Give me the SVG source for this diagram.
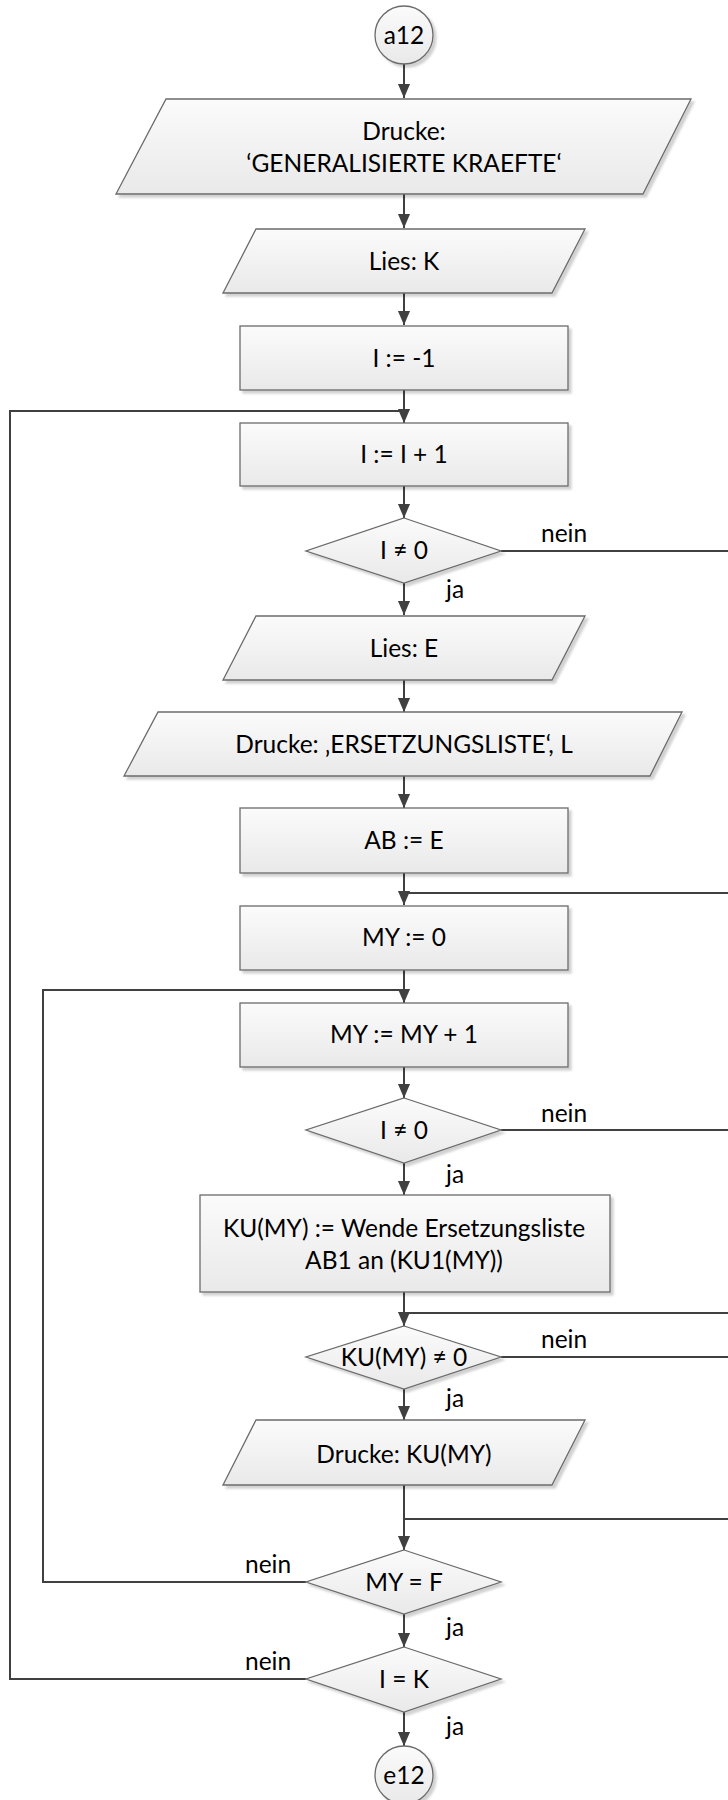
<svg xmlns="http://www.w3.org/2000/svg" width="728" height="1800" viewBox="0 0 728 1800">
<style>
.n{fill:url(#g);stroke:#6b6b6b;stroke-width:1.3;filter:url(#sh)}
.t{font-family:Lato,"Liberation Sans",sans-serif;font-size:24.5px;fill:#000;text-anchor:middle}
.l{font-family:Lato,"Liberation Sans",sans-serif;font-size:24.5px;fill:#000}
.c{fill:none;stroke:#404040;stroke-width:2}
.a{marker-end:url(#ah)}
</style>
<defs>
<linearGradient id="g" x1="0" y1="0" x2="0" y2="1">
<stop offset="0" stop-color="#fbfbfb"/>
<stop offset="1" stop-color="#e9e9e9"/>
</linearGradient>
<filter id="sh" x="-10%" y="-10%" width="130%" height="140%">
<feDropShadow dx="3" dy="3" stdDeviation="1" flood-color="#000" flood-opacity="0.18"/>
</filter>
<marker id="ah" markerUnits="userSpaceOnUse" markerWidth="14" markerHeight="16" refX="15" refY="6.5" orient="auto" viewBox="0 0 15 13">
<path d="M0,0 L15,6.5 L0,13 z" fill="#404040"/>
</marker>
</defs>

<g id="connectors">
<path class="c a" d="M404,64 V98"/>
<path class="c a" d="M404,194 V228"/>
<path class="c a" d="M404,293 V325"/>
<path class="c a" d="M404,390 V423"/>
<path class="c" d="M306,1679 H10 V411 H404"/>
<path class="c a" d="M404,486 V518"/>
<path class="c" d="M501,551 H730"/>
<path class="c a" d="M404,583 V615"/>
<path class="c a" d="M404,680 V712"/>
<path class="c a" d="M404,776 V808"/>
<path class="c a" d="M404,873 V905"/>
<path class="c" d="M730,893 H404"/>
<path class="c a" d="M404,970 V1003"/>
<path class="c" d="M306,1582 H43 V990 H404"/>
<path class="c a" d="M404,1067 V1098"/>
<path class="c" d="M501,1130 H730"/>
<path class="c a" d="M404,1163 V1195"/>
<path class="c a" d="M404,1292 V1326"/>
<path class="c" d="M730,1313 H404"/>
<path class="c" d="M501,1357 H730"/>
<path class="c a" d="M404,1389 V1420"/>
<path class="c a" d="M404,1485 V1550"/>
<path class="c" d="M730,1519 H404"/>
<path class="c a" d="M404,1614 V1647"/>
<path class="c a" d="M404,1712 V1746"/>
</g>

<g id="start">
<circle class="n" cx="404" cy="35" r="29"/>
<text class="t" x="404" y="44">a12</text>
</g>
<g id="print1">
<polygon class="n" points="166,99 691,99 643,194 116,194"/>
<text class="t" x="404" y="140">Drucke:</text>
<text class="t" x="404" y="172">‘GENERALISIERTE KRAEFTE‘</text>
</g>
<g id="readK">
<polygon class="n" points="256,229 585,229 552,293 223,293"/>
<text class="t" x="404" y="270">Lies: K</text>
</g>
<g id="initI">
<rect class="n" x="240" y="326" width="328" height="64"/>
<text class="t" x="404" y="367">I := -1</text>
</g>
<g id="incI">
<rect class="n" x="240" y="423" width="328" height="63"/>
<text class="t" x="404" y="463">I := I + 1</text>
</g>
<g id="decI1">
<polygon class="n" points="404,518 501,551 404,583 306,551"/>
<text class="t" x="404" y="559">I ≠ 0</text>
</g>
<g id="readE">
<polygon class="n" points="256,616 585,616 552,680 223,680"/>
<text class="t" x="404" y="657">Lies: E</text>
</g>
<g id="print2">
<polygon class="n" points="158,712 682,712 650,776 124,776"/>
<text class="t" x="404" y="753">Drucke: ‚ERSETZUNGSLISTE‘, L</text>
</g>
<g id="setAB">
<rect class="n" x="240" y="808" width="328" height="65"/>
<text class="t" x="404" y="849">AB := E</text>
</g>
<g id="initMY">
<rect class="n" x="240" y="906" width="328" height="64"/>
<text class="t" x="404" y="946">MY := 0</text>
</g>
<g id="incMY">
<rect class="n" x="240" y="1003" width="328" height="64"/>
<text class="t" x="404" y="1043">MY := MY + 1</text>
</g>
<g id="decI2">
<polygon class="n" points="404,1098 501,1130 404,1163 306,1130"/>
<text class="t" x="404" y="1139">I ≠ 0</text>
</g>
<g id="applyList">
<rect class="n" x="200" y="1195" width="410" height="97"/>
<text class="t" x="404" y="1237">KU(MY) := Wende Ersetzungsliste</text>
<text class="t" x="404" y="1269">AB1 an (KU1(MY))</text>
</g>
<g id="decKU">
<polygon class="n" points="404,1326 501,1357 404,1389 306,1357"/>
<text class="t" x="404" y="1366">KU(MY) ≠ 0</text>
</g>
<g id="printKU">
<polygon class="n" points="256,1420 585,1420 552,1485 223,1485"/>
<text class="t" x="404" y="1463">Drucke: KU(MY)</text>
</g>
<g id="decMY">
<polygon class="n" points="404,1550 501,1582 404,1614 306,1582"/>
<text class="t" x="404" y="1591">MY = F</text>
</g>
<g id="decIK">
<polygon class="n" points="404,1647 501,1679 404,1712 306,1679"/>
<text class="t" x="404" y="1688">I = K</text>
</g>
<g id="end">
<circle class="n" cx="404" cy="1775" r="29"/>
<text class="t" x="404" y="1784">e12</text>
</g>

<g id="labels">
<text class="l" x="541" y="542">nein</text>
<text class="l" x="446" y="598">ja</text>
<text class="l" x="541" y="1122">nein</text>
<text class="l" x="446" y="1183">ja</text>
<text class="l" x="541" y="1348">nein</text>
<text class="l" x="446" y="1407">ja</text>
<text class="l" x="245" y="1573">nein</text>
<text class="l" x="446" y="1636">ja</text>
<text class="l" x="245" y="1670">nein</text>
<text class="l" x="446" y="1735">ja</text>
</g>
</svg>
